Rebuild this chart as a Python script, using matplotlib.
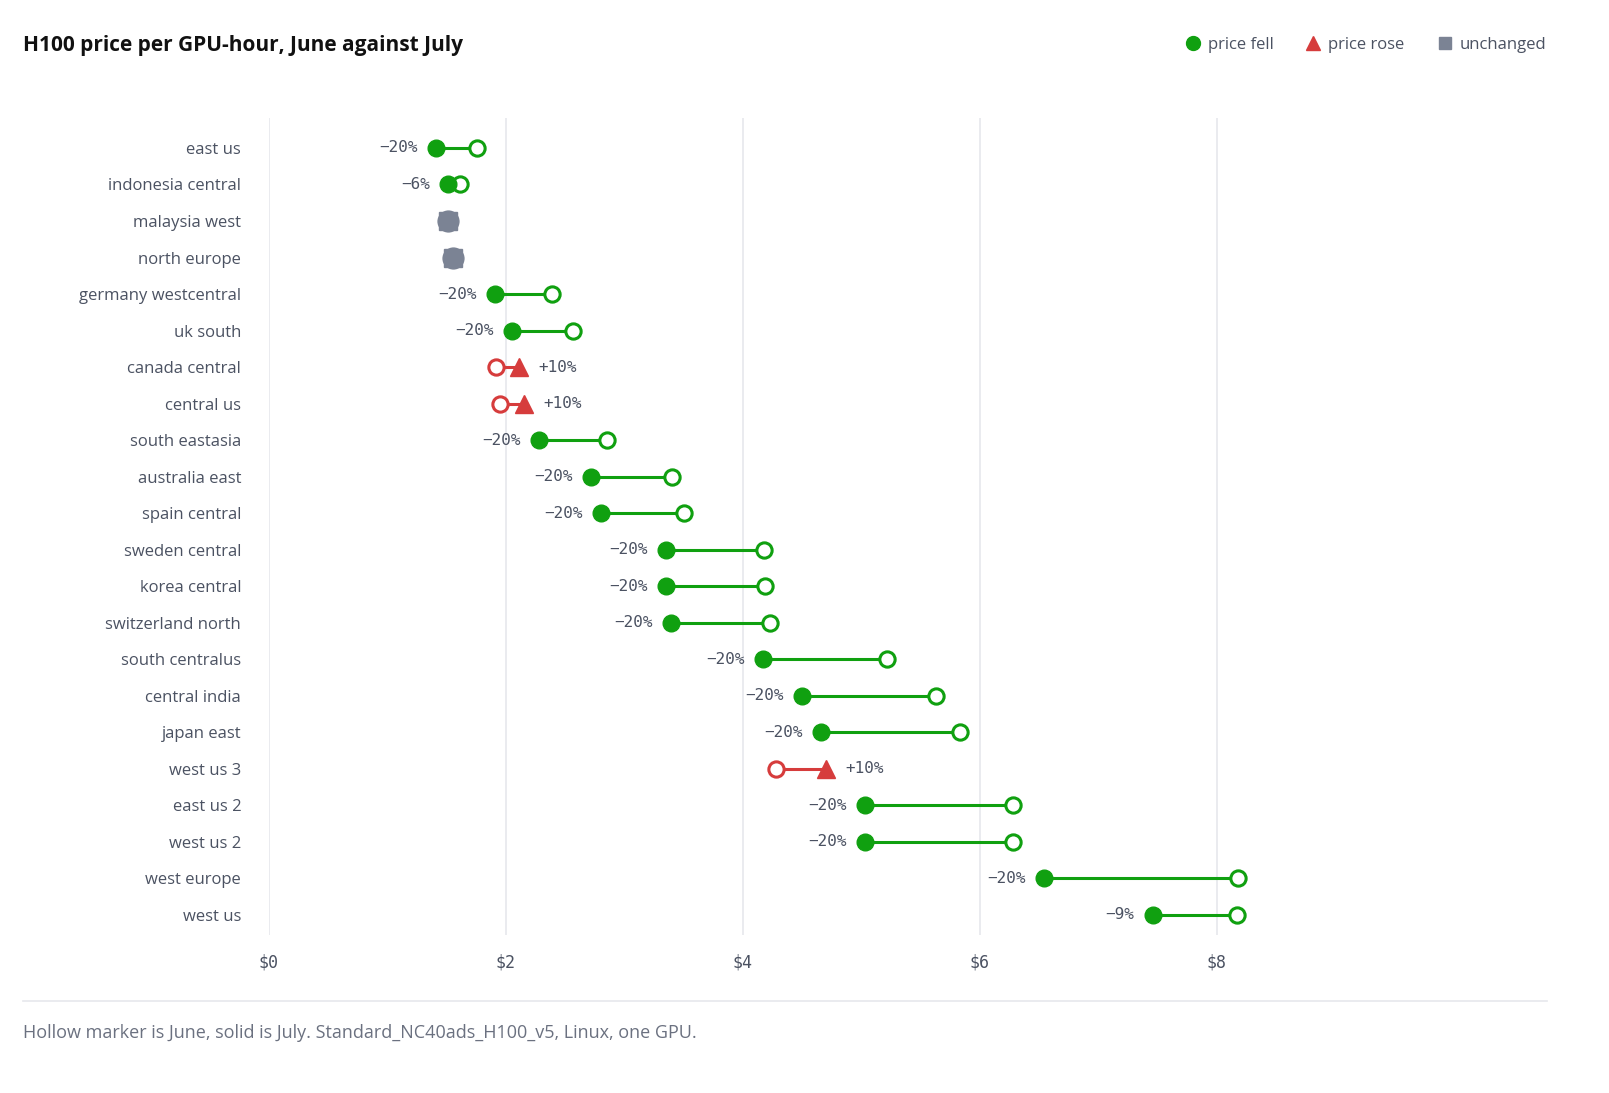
import matplotlib
matplotlib.use("Agg")
import matplotlib.pyplot as plt
from matplotlib.lines import Line2D

regions = [
    "east us", "indonesia central", "malaysia west", "north europe",
    "germany westcentral", "uk south", "canada central", "central us",
    "south eastasia", "australia east", "spain central", "sweden central",
    "korea central", "switzerland north", "south centralus", "central india",
    "japan east", "west us 3", "east us 2", "west us 2", "west europe", "west us",
]
june = [1.76, 1.61, 1.51, 1.55, 2.39, 2.57, 1.92, 1.95, 2.85, 3.40, 3.50, 4.18,
        4.19, 4.23, 5.22, 5.63, 5.83, 4.28, 6.28, 6.28, 8.18, 8.17]
july = [1.41, 1.51, 1.51, 1.55, 1.91, 2.05, 2.11, 2.15, 2.28, 2.72, 2.80, 3.35,
        3.35, 3.39, 4.17, 4.50, 4.66, 4.70, 5.03, 5.03, 6.54, 7.46]
pct_labels = ["\u221220%", "\u22126%", "", "", "\u221220%", "\u221220%", "+10%", "+10%",
              "\u221220%", "\u221220%", "\u221220%", "\u221220%", "\u221220%", "\u221220%",
              "\u221220%", "\u221220%", "\u221220%", "+10%", "\u221220%", "\u221220%",
              "\u221220%", "\u22129%"]
xticks = [0, 2, 4, 6, 8]
xtick_labels = ["$0", "$2", "$4", "$6", "$8"]

GREEN = "#10a010"
RED = "#d63c3c"
GRAY = "#7b8394"
TXT = "#4b5262"

plt.rcParams["font.family"] = ["Open Sans", "DejaVu Sans"]

fig = plt.figure(figsize=(16.09, 10.93), dpi=100)
ax = fig.add_axes([269 / 1609, 1 - 935 / 1093, (1380 - 269) / 1609, (935 - 118) / 1093])

n = len(regions)
for i, (name, j0, j1, lab) in enumerate(zip(regions, june, july, pct_labels)):
    y = i
    if abs(j1 - j0) < 1e-9:
        # unchanged: one gray blob
        ax.plot(j1, y, marker="s", ms=13, color=GRAY, mec=GRAY, zorder=4)
        ax.plot(j1, y, marker="o", ms=15, color=GRAY, mec=GRAY, zorder=4)
        continue
    rose = j1 > j0
    c = RED if rose else GREEN
    ax.plot([j0, j1], [y, y], color=c, lw=2.2, zorder=2, solid_capstyle="butt")
    ax.plot(j0, y, marker="o", ms=11, mfc="white", mec=c, mew=2.2, zorder=4)
    if rose:
        ax.plot(j1, y, marker="^", ms=13, color=c, mec=c, zorder=4)
        ax.annotate(lab, (j1, y), xytext=(14, 0), textcoords="offset points",
                    ha="left", va="center", fontsize=11.5, color=TXT,
                    family="DejaVu Sans Mono")
    else:
        ax.plot(j1, y, marker="o", ms=12, color=c, mec=c, zorder=4)
        ax.annotate(lab, (j1, y), xytext=(-13, 0), textcoords="offset points",
                    ha="right", va="center", fontsize=11.5, color=TXT,
                    family="DejaVu Sans Mono")

ax.set_ylim(n - 0.45, -0.82)
ax.set_xlim(0, 9.38)
ax.set_yticks(range(n))
ax.set_yticklabels(regions, fontsize=12, color=TXT)
ax.set_xticks(xticks)
ax.set_xticklabels(xtick_labels, fontsize=12, color=TXT, family="DejaVu Sans Mono")
ax.tick_params(axis="y", length=0, pad=20)
ax.tick_params(axis="x", length=0, pad=13)
for s in ax.spines.values():
    s.set_visible(False)
ax.grid(axis="x", color="#e6e8ec", lw=1.2)
ax.set_axisbelow(True)

fig.text(23 / 1609, 1 - 45 / 1093, "H100 price per GPU-hour, June against July",
         fontsize=15, fontweight="bold", color="#111111", va="center", ha="left")

handles = [
    Line2D([], [], ls="none", marker="o", ms=10, color=GREEN, label="price fell"),
    Line2D([], [], ls="none", marker="^", ms=10, color=RED, label="price rose"),
    Line2D([], [], ls="none", marker="s", ms=9, color=GRAY, label="unchanged"),
]
leg = fig.legend(handles=handles, loc="center right", bbox_to_anchor=(1553 / 1609, 1 - 45 / 1093),
                 ncol=3, frameon=False, fontsize=12, handletextpad=0.4, columnspacing=1.9,
                 handlelength=1.0, borderaxespad=0)
for t in leg.get_texts():
    t.set_color(TXT)

fig.add_artist(Line2D([23 / 1609, 1547 / 1609], [1 - 1001 / 1093, 1 - 1001 / 1093],
                      color="#e6e8ec", lw=1.2))
fig.text(23 / 1609, 1 - 1033 / 1093,
         "Hollow marker is June, solid is July. Standard_NC40ads_H100_v5, Linux, one GPU.",
         fontsize=13, color="#6b7180", va="center", ha="left")

fig.savefig("out.png", dpi=100, facecolor="white")
